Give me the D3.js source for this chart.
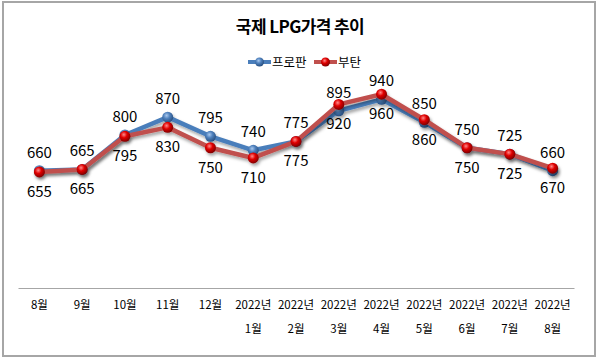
<!DOCTYPE html>
<html>
<head>
<meta charset="utf-8" />
<title>국제 LPG가격 추이</title>
<style>
html, body {
    margin: 0;
    padding: 0;
    background: #fff;
}
#chart {
    width: 600px;
    height: 362px;
}
text {
    font-family: "Noto Sans CJK KR", "Noto Sans", sans-serif;
}
</style>
</head>
<body>
<div id="chart"></div>

<script src="https://cdnjs.cloudflare.com/ajax/libs/d3/7.8.5/d3.min.js"></script>
<script>
!(function(){
    "use strict"

    // month labels (two lines)
    var months = ["8월", "9월", "10월", "11월", "12월",
        "2022년\n1월", "2022년\n2월", "2022년\n3월", "2022년\n4월",
        "2022년\n5월", "2022년\n6월", "2022년\n7월", "2022년\n8월"]
    var propane = [660, 665, 800, 870, 795, 740, 775, 895, 940, 850, 750, 725, 660]
    var butane  = [655, 665, 795, 830, 750, 710, 775, 920, 960, 860, 750, 725, 670]
    var yDomain = [200, 1000]

    var width = 600, height = 362
    var plot = {left: 18, right: 574, top: 84, bottom: 288}

    var svg = d3.select("#chart").append("svg")
        .attr("width", width)
        .attr("height", height)

    var defs = svg.append("defs")

    var shadow = defs.append("filter").attr("id", "shadow")
        .attr("x", "-20%").attr("y", "-20%").attr("width", "140%").attr("height", "160%")
    shadow.append("feDropShadow")
        .attr("dx", 1.5).attr("dy", 2.5).attr("stdDeviation", 1.6)
        .attr("flood-color", "#000").attr("flood-opacity", 0.35)

    function ball(id, light, mid, dark) {
        var g = defs.append("radialGradient").attr("id", id)
            .attr("cx", "40%").attr("cy", "35%").attr("r", "65%")
        g.append("stop").attr("offset", "0%").attr("stop-color", light)
        g.append("stop").attr("offset", "45%").attr("stop-color", mid)
        g.append("stop").attr("offset", "100%").attr("stop-color", dark)
    }
    ball("ballBlue", "#a9c8ee", "#4f81bd", "#284f80")
    ball("ballRed", "#ff8a8a", "#e00000", "#800000")

    // frame
    svg.append("rect")
        .attr("x", 3).attr("y", 2)
        .attr("width", 592).attr("height", 354)
        .attr("fill", "#fff")
        .attr("stroke", "#a6a6a6")
        .attr("stroke-width", 2)

    var x = d3.scaleBand()
        .domain(months)
        .range([plot.left, plot.right])

    var y = d3.scaleLinear()
        .domain(yDomain)
        .range([plot.bottom, plot.top])

    // title
    svg.append("text")
        .attr("x", 300).attr("y", 33)
        .attr("text-anchor", "middle")
        .attr("font-size", 17)
        .attr("font-weight", "bold")
        .attr("letter-spacing", -0.6)
        .attr("fill", "#000")
        .text("국제 LPG가격 추이")

    // x axis
    var xAxis = svg.append("g")
        .attr("transform", "translate(0," + plot.bottom + ")")
        .call(d3.axisBottom(x).tickSize(0).tickPadding(0))
    xAxis.select(".domain").attr("stroke", "#a6a6a6").attr("stroke-width", 1.2)
    xAxis.selectAll(".tick text").remove()
    xAxis.selectAll(".tick").each(function(d) {
        var lines = d.split("\n")
        var t = d3.select(this).append("text")
            .attr("text-anchor", "middle")
            .attr("font-size", 11.5)
            .attr("fill", "#000")
        lines.forEach(function(l, i) {
            t.append("tspan").attr("x", 0).attr("y", 21 + i * 24).text(l)
        })
    })

    var series = [
        {name: "프로판", values: propane, line: "#4a7ebb", ball: "url(#ballBlue)", labelDy: -13},
        {name: "부탄", values: butane, line: "#c0504d", ball: "url(#ballRed)", labelDy: 25}
    ]

    var line = d3.line()
        .x(function(d, i) { return x(months[i]) + x.bandwidth() / 2 })
        .y(function(d) { return y(d) })

    series.forEach(function(s) {
        var g = svg.append("g").attr("filter", "url(#shadow)")
        g.append("path")
            .datum(s.values)
            .attr("d", line)
            .attr("fill", "none")
            .attr("stroke", s.line)
            .attr("stroke-width", 4.5)
            .attr("stroke-linejoin", "round")
        g.selectAll("circle").data(s.values).enter()
            .append("circle")
            .attr("cx", function(d, i) { return x(months[i]) + x.bandwidth() / 2 })
            .attr("cy", function(d) { return y(d) })
            .attr("r", 5.5)
            .attr("fill", s.ball)
    })

    series.forEach(function(s) {
        svg.append("g").selectAll("text").data(s.values).enter()
            .append("text")
            .attr("x", function(d, i) { return x(months[i]) + x.bandwidth() / 2 })
            .attr("y", function(d) { return y(d) + s.labelDy })
            .attr("text-anchor", "middle")
            .attr("font-size", 15)
            .attr("fill", "#000")
            .text(function(d) { return d })
    })

    // legend
    var legend = svg.append("g").attr("transform", "translate(248,62)")
    var lx = 0
    series.forEach(function(s) {
        var item = legend.append("g").attr("transform", "translate(" + lx + ",0)")
        item.append("line")
            .attr("x1", 0).attr("x2", 23).attr("y1", 0).attr("y2", 0)
            .attr("stroke", s.line).attr("stroke-width", 4)
        item.append("circle").attr("cx", 11.5).attr("cy", 0).attr("r", 4.5)
            .attr("fill", s.ball)
        item.append("text")
            .attr("x", 24).attr("y", 4.5)
            .attr("font-size", 12.5)
            .attr("fill", "#000")
            .text(s.name)
        lx += 66
    })
}());
</script>
</body>
</html>
